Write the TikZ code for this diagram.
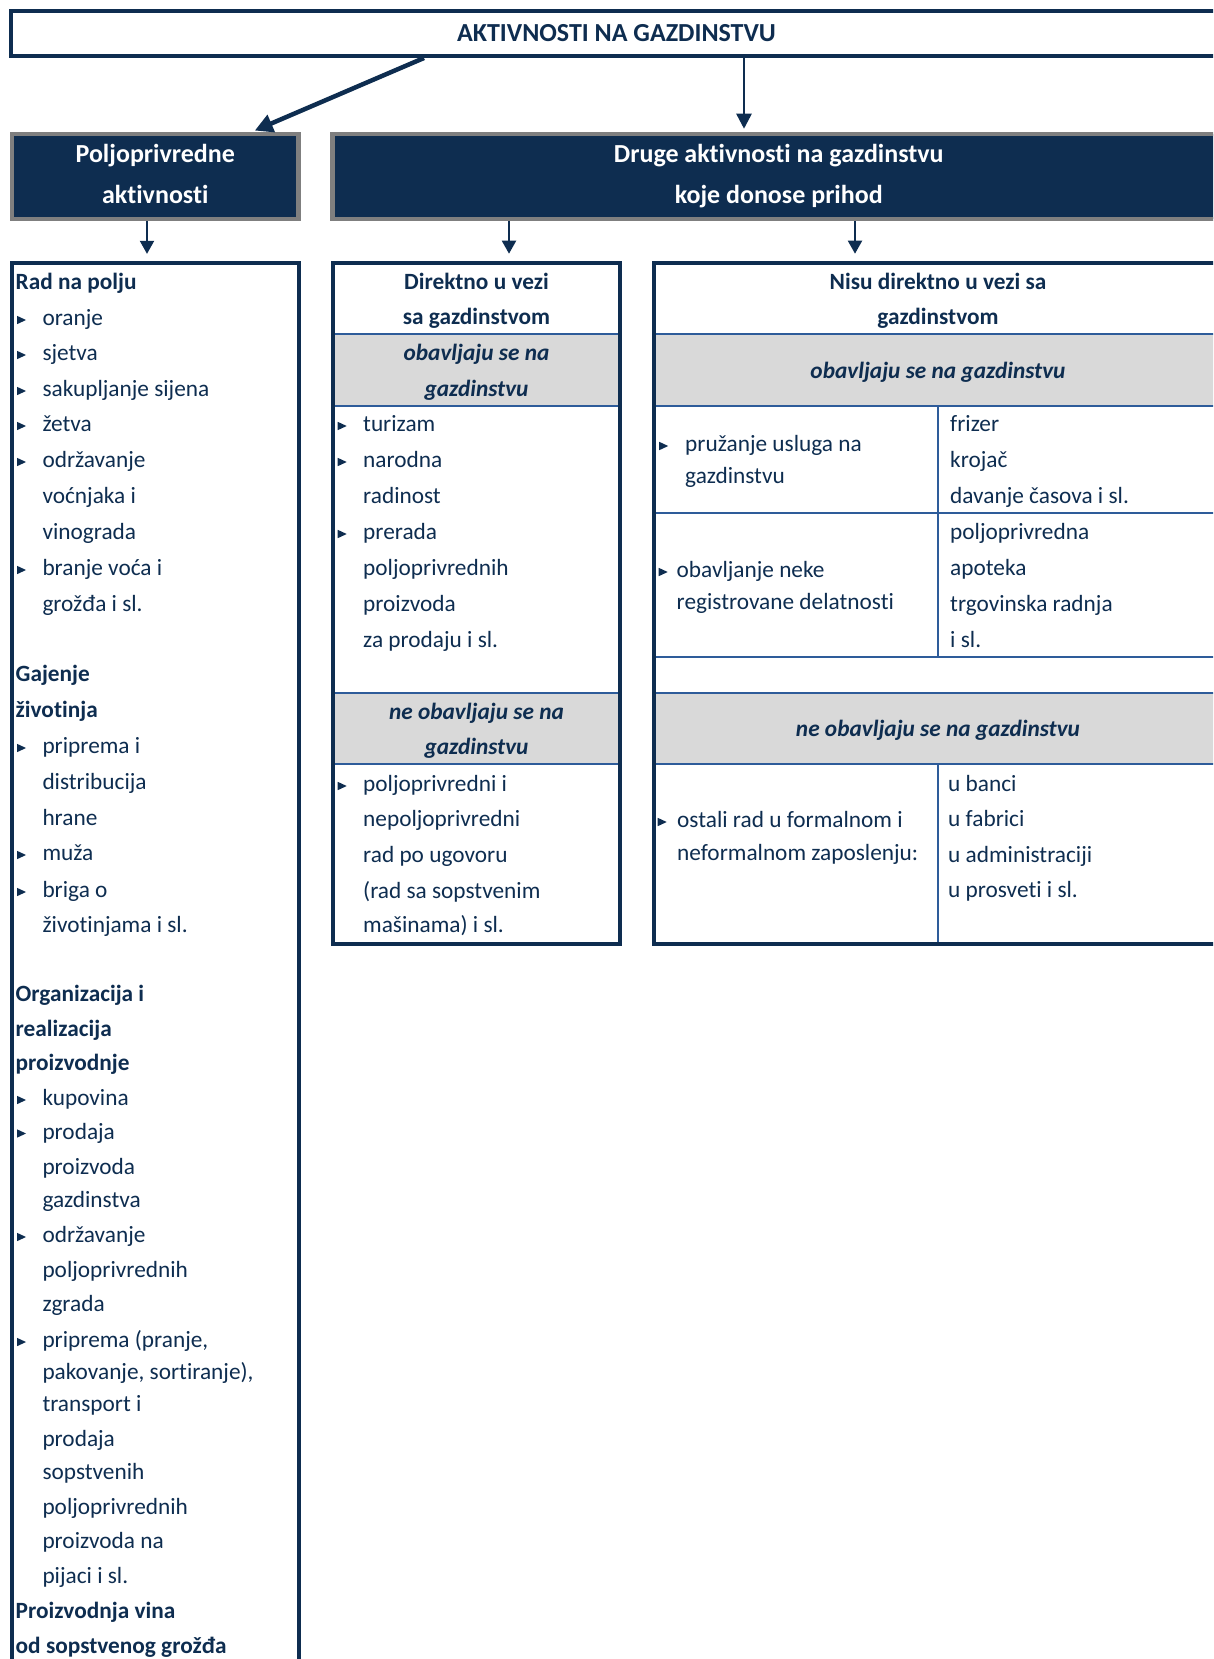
\documentclass[tikz,border=0pt]{standalone}
\usepackage{fontspec}
\setmainfont[Ligatures={NoCommon}]{Carlito}
\usetikzlibrary{arrows.meta,calc}
\definecolor{navy}{HTML}{0E2D50}
\definecolor{lblue}{HTML}{2E5C9A}
\definecolor{band}{HTML}{D9D9D9}
\definecolor{hgray}{HTML}{7F7F7F}
\newcounter{tl}
\newcommand\T[4][txt]{\stepcounter{tl}\node[#1] (t\arabic{tl}) at (#2,#3) {#4};}
\newcommand\B[2]{\fill[navy] (#1-4.3,#2-2.2) -- (#1+4.7,#2+2) -- (#1-4.3,#2+6.2) -- cycle;}
\begin{document}
\begin{tikzpicture}[x=1pt,y=-1pt,
  txt/.style={anchor=west, inner sep=0pt, yshift=-2pt, text=navy, font=\fontsize{23.3}{28}\selectfont, text height=17.5pt, text depth=5.8pt},
  btxt/.style={txt, font=\fontsize{23.3}{28}\selectfont\bfseries},
  ctr/.style={anchor=center, inner sep=0pt, yshift=-2pt, text=navy, font=\fontsize{23.3}{28}\selectfont\bfseries, text height=17.5pt, text depth=5.8pt},
  ital/.style={ctr, font=\fontsize{23.3}{28}\selectfont\bfseries\itshape},
  hdrbox/.style={draw=hgray, line width=4.5pt, fill=navy, text=white, align=center, inner sep=0pt, font=\fontsize{26}{41}\selectfont\bfseries},
  colbox/.style={draw=navy, line width=4pt, inner sep=0pt},
  rule/.style={draw=lblue, line width=2pt},
  bigarr/.style={draw=navy, line width=4.5pt, -{Triangle[length=18pt,width=18pt]}},
  midarr/.style={draw=navy, line width=2.5pt, -{Triangle[length=15pt,width=15pt]}},
  smallarr/.style={draw=navy, line width=2pt, -{Triangle[length=13pt,width=14pt]}}
]
\useasboundingbox (0,0) rectangle (1213,1659);
\clip (0,0) rectangle (1213,1659);

% top box
\node[draw=navy, line width=4pt, fill=white, minimum width=1211pt, minimum height=45pt, inner sep=0pt,
      text=navy, font=\fontsize{26}{30}\selectfont\bfseries] (top) at (616.5,33.5) {AKTIVNOSTI NA GAZDINSTVU};

% header boxes
\node[hdrbox, minimum width=286.5pt, minimum height=85pt] (pa) at (155.25,176.5) {Poljoprivredne\\aktivnosti\vphantom{j}};
\node[hdrbox, minimum width=892.5pt, minimum height=85pt] (dr) at (778.75,176.5) {Druge aktivnosti na gazdinstvu\\koje donose prihod};

% gray bands
\fill[band] (333,334) rectangle (620,406);
\fill[band] (333,693) rectangle (620,764);
\fill[band] (654,334) rectangle (1224,406);
\fill[band] (654,693) rectangle (1224,764);

% rules
\draw[rule] (333,334) -- (620,334);
\draw[rule] (333,406) -- (620,406);
\draw[rule] (333,693) -- (620,693);
\draw[rule] (333,764) -- (620,764);
\draw[rule] (654,334) -- (1224,334);
\draw[rule] (654,406) -- (1224,406);
\draw[rule] (654,512.7) -- (1224,512.7);
\draw[rule] (654,656.7) -- (1224,656.7);
\draw[rule] (654,693) -- (1224,693);
\draw[rule] (654,764) -- (1224,764);
\draw[rule] (938,406) -- (938,656.7);
\draw[rule] (938,764) -- (938,943.5);

% column boxes
\node[colbox, minimum width=286.5pt, minimum height=1457pt] (lc) at (155.25,991.35) {};
\node[colbox, minimum width=287pt, minimum height=680.8pt] (mc) at (476.5,603.1) {};
\node[colbox, minimum width=570pt, minimum height=680.8pt] (rc) at (939,603.1) {};

% arrows
\coordinate (a1) at (424,0);
\coordinate (a2) at (252,0);
\coordinate (b1) at (744,0);
\coordinate (c1) at (147,0);
\coordinate (c2) at (509,0);
\coordinate (c3) at (855,0);
\draw[bigarr, shorten >=3pt] (top.south -| a1) -- (pa.north -| a2);
\draw[midarr, shorten >=3pt] (top.south -| b1) -- (dr.north -| b1);
\draw[smallarr, shorten >=7pt] (pa.south -| c1) -- (lc.north -| c1);
\draw[smallarr, shorten >=7pt] (dr.south -| c2) -- (mc.north -| c2);
\draw[smallarr, shorten >=7pt] (dr.south -| c3) -- (rc.north -| c3);

% left column
\T[btxt]{15.5}{282}{Rad na polju}
\B{21.3}{318}\T{42.3}{318}{oranje}
\B{21.3}{353}\T{42.3}{353}{sjetva}
\B{21.3}{389}\T{42.3}{389}{sakupljanje sijena}
\B{21.3}{424}\T{42.3}{424}{žetva}
\B{21.3}{460}\T{42.3}{460}{održavanje}
\T{42.3}{496}{voćnjaka i}
\T{42.3}{532}{vinograda}
\B{21.3}{568}\T{42.3}{568}{branje voća i}
\T{42.3}{604}{grožđa i sl.}
\T[btxt]{15.5}{674}{Gajenje}
\T[btxt]{15.5}{710}{životinja}
\B{21.3}{746}\T{42.3}{746}{priprema i}
\T{42.3}{782}{distribucija}
\T{42.3}{818}{hrane}
\B{21.3}{853}\T{42.3}{853}{muža}
\B{21.3}{890}\T{42.3}{890}{briga o}
\T{42.3}{925}{životinjama i sl.}
\T[btxt]{15.5}{994}{Organizacija i}
\T[btxt]{15.5}{1029}{realizacija}
\T[btxt]{15.5}{1063}{proizvodnje}
\B{21.3}{1098}\T{42.3}{1098}{kupovina}
\B{21.3}{1131.5}\T{42.3}{1131.5}{prodaja}
\T{42.3}{1166.5}{proizvoda}
\T{42.3}{1200}{gazdinstva}
\B{21.3}{1235}\T{42.3}{1235}{održavanje}
\T{42.3}{1270}{poljoprivrednih}
\T{42.3}{1304}{zgrada}
\B{21.3}{1340}\T{42.3}{1340}{priprema (pranje,}
\T{42.3}{1372}{pakovanje, sortiranje),}
\T{42.3}{1403.5}{transport i}
\T{42.3}{1438.5}{prodaja}
\T{42.3}{1472}{sopstvenih}
\T{42.3}{1507}{poljoprivrednih}
\T{42.3}{1541}{proizvoda na}
\T{42.3}{1576}{pijaci i sl.}
\T[btxt]{15.5}{1611}{Proizvodnja vina}
\T[btxt]{15.5}{1646}{od sopstvenog grožđa}

% middle column
\T[ctr]{476.5}{282}{Direktno u vezi}
\T[ctr]{476.5}{317}{sa gazdinstvom}
\T[ital]{476.5}{353}{obavljaju se na}
\T[ital]{476.5}{389}{gazdinstvu}
\B{342}{424}\T{363}{424}{turizam}
\B{342}{460}\T{363}{460}{narodna}
\T{363}{496}{radinost}
\B{342}{532}\T{363}{532}{prerada}
\T{363}{568}{poljoprivrednih}
\T{363}{604}{proizvoda}
\T{363}{640}{za prodaju i sl.}
\T[ital]{476.5}{712}{ne obavljaju se na}
\T[ital]{476.5}{747}{gazdinstvu}
\B{342}{784}\T{363}{784}{poljoprivredni i}
\T{363}{819}{nepoljoprivredni}
\T{363}{855}{rad po ugovoru}
\T{363}{891}{(rad sa sopstvenim}
\T{363}{925}{mašinama) i sl.}

% right column
\T[ctr]{938}{282}{Nisu direktno u vezi sa}
\T[ctr]{938}{317}{gazdinstvom}
\T[ital]{938}{371}{obavljaju se na gazdinstvu}
\B{663.5}{444}\T{685}{444}{pružanje usluga na}
\T{685}{476}{gazdinstvu}
\T{950}{424}{frizer}
\T{950}{460}{krojač}
\T{950}{496}{davanje časova i sl.}
\B{663}{570}\T{676.5}{570}{obavljanje neke}
\T{676.5}{602}{registrovane delatnosti}
\T{950}{532}{poljoprivredna}
\T{950}{568}{apoteka}
\T{950}{604}{trgovinska radnja}
\T{950}{640}{i sl.}
\T[ital]{938}{729}{ne obavljaju se na gazdinstvu}
\B{662}{820}\T{677}{820}{ostali rad u formalnom i}
\T{677}{853}{neformalnom zaposlenju:}
\T{948}{784}{u banci}
\T{948}{819}{u fabrici}
\T{948}{855}{u administraciji}
\T{948}{890}{u prosveti i sl.}
\end{tikzpicture}
\end{document}
